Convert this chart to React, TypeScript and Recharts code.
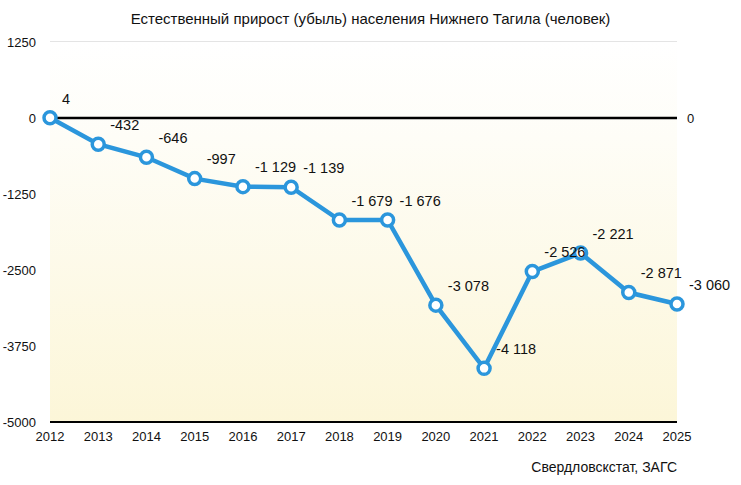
import { LineChart, Line, XAxis, YAxis, CartesianGrid, ReferenceLine, ReferenceArea } from 'recharts';

// Естественный прирост (убыль) населения Нижнего Тагила, человек
const years = ['2012', '2013', '2014', '2015', '2016', '2017', '2018', '2019', '2020', '2021', '2022', '2023', '2024', '2025'];
const growth = [4, -432, -646, -997, -1129, -1139, -1679, -1676, -3078, -4118, -2526, -2221, -2871, -3060];
const yTicks = [1250, 0, -1250, -2500, -3750, -5000];

const data = years.map((year, i) => ({ year, value: growth[i] }));

const FONT = '"Liberation Sans", Arial, sans-serif';
const NARROW = '"Liberation Sans Narrow", "Liberation Sans", Arial, sans-serif';
const BLUE = '#2b96dc';

// "-3 078" style, with a space as thousands separator
const fmt = (v: number) => {
  const s = String(Math.abs(v)).replace(/\B(?=(\d{3})+(?!\d))/g, ' ');
  return v < 0 ? '-' + s : s;
};

function ValueLabel(props: any) {
  const { x, y, value } = props;
  return (
    <text x={x + 12} y={y - 18} fontSize={14.5} fontFamily={FONT} fill="#111" textAnchor="start" dominantBaseline="middle">
      {fmt(value)}
    </text>
  );
}

export default function App() {
  return (
    <div style={{ position: 'absolute', left: 0, top: 0, width: 741, height: 485, background: '#fff' }}>
      <div style={{ position: 'absolute', top: 10, width: 741, textAlign: 'center', fontFamily: FONT, fontSize: 15, color: '#111' }}>
        Естественный прирост (убыль) населения Нижнего Тагила (человек)
      </div>
      <LineChart width={741} height={485} data={data} margin={{ top: 42, right: 64, left: 0, bottom: 29 }}>
        <defs>
          <linearGradient id="plotBg" x1="0" y1="0" x2="0" y2="1">
            <stop offset="0%" stopColor="#ffffff" />
            <stop offset="25%" stopColor="#fefdf7" />
            <stop offset="100%" stopColor="#fcf6d8" />
          </linearGradient>
        </defs>
        <ReferenceArea y1={-5000} y2={1250} fill="url(#plotBg)" fillOpacity={1} stroke="none" />
        <CartesianGrid vertical={false} stroke="#c9c9c9" strokeWidth={1} />
        <XAxis
          dataKey="year"
          type="category"
          tickSize={0}
          tickMargin={10}
          axisLine={{ stroke: '#000', strokeWidth: 2 }}
          tick={{ fontSize: 13, fill: '#111', fontFamily: NARROW }}
          interval={0}
          height={34}
        />
        <YAxis
          type="number"
          domain={[-5000, 1250]}
          ticks={yTicks}
          width={50}
          tickSize={0}
          tickMargin={14}
          axisLine={false}
          tick={{ fontSize: 13, fill: '#111', fontFamily: NARROW }}
          interval={0}
        />
        <ReferenceLine
          y={0}
          stroke="#000"
          strokeWidth={2.5}
          label={{ value: '0', position: 'right', offset: 10, fontSize: 13, fill: '#111', fontFamily: FONT }}
        />
        <Line
          type="linear"
          dataKey="value"
          stroke={BLUE}
          strokeWidth={4.5}
          dot={{ r: 6, stroke: BLUE, strokeWidth: 3.5, fill: '#fff' }}
          activeDot={false}
          label={<ValueLabel />}
          isAnimationActive={false}
        />
      </LineChart>
      <div style={{ position: 'absolute', top: 459, right: 64, fontFamily: NARROW, fontSize: 14, color: '#111' }}>
        Свердловскстат, ЗАГС
      </div>
    </div>
  );
}
